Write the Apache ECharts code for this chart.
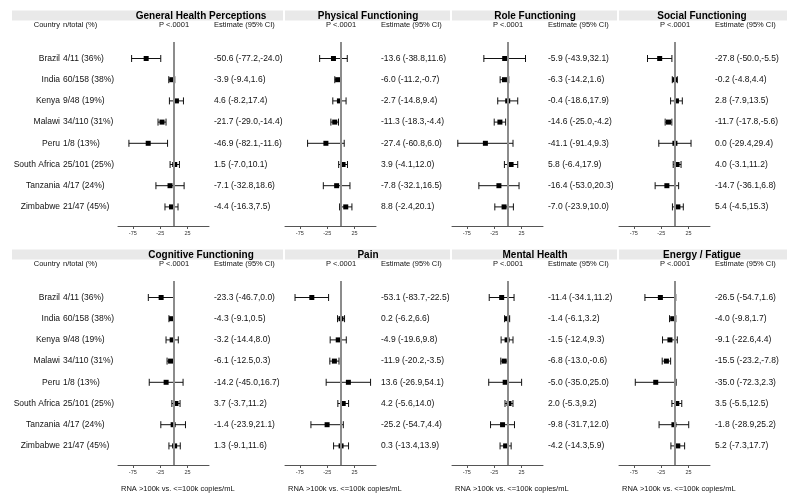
<!DOCTYPE html>
<html><head><meta charset="utf-8">
<script src="https://cdn.jsdelivr.net/npm/echarts@6/dist/echarts.min.js"></script>
<style>html,body{margin:0;padding:0;background:#fff}#c{width:800px;height:502px}</style>
</head><body><div id="c"></div>
<script>
// ---------- DATA ----------
const countries = ['Brazil','India','Kenya','Malawi','Peru','South Africa','Tanzania','Zimbabwe'];
const nTotals = ['4/11 (36%)','60/158 (38%)','9/48 (19%)','34/110 (31%)','1/8 (13%)','25/101 (25%)','4/17 (24%)','21/47 (45%)'];
const panelTitles = ['General Health Perceptions','Physical Functioning','Role Functioning','Social Functioning',
                     'Cognitive Functioning','Pain','Mental Health','Energy / Fatigue'];
const xTickValues = [-75,-25,25];
const pValueLabel = 'P <.0001';
const estimateHeader = 'Estimate (95% CI)';
const countryHeader = 'Country';
const nHeader = 'n/total (%)';
const xAxisNote = 'RNA >100k vs. <=100k copies/mL';

const ghpEst = [-50.6,-3.9,4.6,-21.7,-46.9,1.5,-7.1,-4.4];
const ghpLo  = [-77.2,-9.4,-8.2,-29.0,-82.1,-7.0,-32.8,-16.3];
const ghpHi  = [-24.0,1.6,17.4,-14.4,-11.6,10.1,18.6,7.5];

const pfEst = [-13.6,-6.0,-2.7,-11.3,-27.4,3.9,-7.8,8.8];
const pfLo  = [-38.8,-11.2,-14.8,-18.3,-60.8,-4.1,-32.1,-2.4];
const pfHi  = [11.6,-0.7,9.4,-4.4,6.0,12.0,16.5,20.1];

const rfEst = [-5.9,-6.3,-0.4,-14.6,-41.1,5.8,-16.4,-7.0];
const rfLo  = [-43.9,-14.2,-18.6,-25.0,-91.4,-6.4,-53.0,-23.9];
const rfHi  = [32.1,1.6,17.9,-4.2,9.3,17.9,20.3,10.0];

const sfEst = [-27.8,-0.2,2.8,-11.7,0.0,4.0,-14.7,5.4];
const sfLo  = [-50.0,-4.8,-7.9,-17.8,-29.4,-3.1,-36.1,-4.5];
const sfHi  = [-5.5,4.4,13.5,-5.6,29.4,11.2,6.8,15.3];

const cfEst = [-23.3,-4.3,-3.2,-6.1,-14.2,3.7,-1.4,1.3];
const cfLo  = [-46.7,-9.1,-14.4,-12.5,-45.0,-3.7,-23.9,-9.1];
const cfHi  = [0.0,0.5,8.0,0.3,16.7,11.2,21.1,11.6];

const painEst = [-53.1,0.2,-4.9,-11.9,13.6,4.2,-25.2,0.3];
const painLo  = [-83.7,-6.2,-19.6,-20.2,-26.9,-5.6,-54.7,-13.4];
const painHi  = [-22.5,6.6,9.8,-3.5,54.1,14.0,4.4,13.9];

const mhEst = [-11.4,-1.4,-1.5,-6.8,-5.0,2.0,-9.8,-4.2];
const mhLo  = [-34.1,-6.1,-12.4,-13.0,-35.0,-5.3,-31.7,-14.3];
const mhHi  = [11.2,3.2,9.3,-0.6,25.0,9.2,12.0,5.9];

const efEst = [-26.5,-4.0,-9.1,-15.5,-35.0,3.5,-1.8,5.2];
const efLo  = [-54.7,-9.8,-22.6,-23.2,-72.3,-5.5,-28.9,-7.3];
const efHi  = [1.6,1.7,4.4,-7.8,2.3,12.5,25.2,17.7];

const panelEst = [ghpEst,pfEst,rfEst,sfEst,cfEst,painEst,mhEst,efEst];
const panelLo  = [ghpLo,pfLo,rfLo,sfLo,cfLo,painLo,mhLo,efLo];
const panelHi  = [ghpHi,pfHi,rfHi,sfHi,cfHi,painHi,mhHi,efHi];

// ---------- LAYOUT ----------
const FONT = "'Liberation Sans', Arial, Helvetica, sans-serif";
const colLeft = [118, 285, 452, 619];
const plotW = 91;
const rowTop = [42, 281];     // top of zero line
const firstOff = 16.5;        // first row centre below top
const rowStep = 21.2;
const plotH = 184;            // top -> x axis
const yMin = -firstOff / rowStep;
const yMax = 7 + (plotH - firstOff - 7 * rowStep) / rowStep;
const xMin = -102, xMax = 64;
const rowIdx = countries.map((_, i) => i);

const fmt = v => v.toFixed(1);

const chart = echarts.init(document.getElementById('c'), null, {renderer: 'canvas'});

const grids = [], xAxes = [], yAxes = [], series = [], graphics = [];

function renderErr(params, api) {
  const y = api.value(2);
  const p1 = api.coord([api.value(0), y]);
  const p2 = api.coord([api.value(1), y]);
  const h = 3.5;
  const style = {stroke: '#111', lineWidth: 1, fill: null};
  return {type: 'group', children: [
    {type: 'line', shape: {x1: p1[0], y1: p1[1], x2: p2[0], y2: p2[1]}, style},
    {type: 'line', shape: {x1: p1[0], y1: p1[1] - h, x2: p1[0], y2: p1[1] + h}, style},
    {type: 'line', shape: {x1: p2[0], y1: p2[1] - h, x2: p2[0], y2: p2[1] + h}, style}
  ]};
}

const hiddenY = (i, pos, label) => ({
  gridIndex: i, type: 'value', inverse: true, min: yMin, max: yMax, position: pos,
  axisLine: {show: false, onZero: false}, axisTick: {show: false}, splitLine: {show: false},
  axisLabel: label
});

for (let i = 0; i < 8; i++) {
  const r = Math.floor(i / 4), c = i % 4;
  const L = colLeft[c], T = rowTop[r];
  grids.push({left: L, top: T, width: plotW, height: plotH, containLabel: false});
  xAxes.push({
    gridIndex: i, type: 'value', min: xMin, max: xMax, position: 'bottom',
    axisLine: {show: true, onZero: false, lineStyle: {color: '#555', width: 1}},
    axisTick: {show: true, customValues: xTickValues, length: 3, lineStyle: {color: '#555'}},
    axisLabel: {customValues: xTickValues, fontSize: 5.5, color: '#333', margin: 4, fontFamily: FONT},
    splitLine: {show: false}
  });
  const est = panelEst[i], lo = panelLo[i], hi = panelHi[i];
  const estLabels = est.map((v, k) => fmt(v) + ' (' + fmt(lo[k]) + ',' + fmt(hi[k]) + ')');
  const yBase = yAxes.length;
  yAxes.push(hiddenY(i, 'left', c === 0 ? {
    show: true, customValues: rowIdx, margin: 58, fontSize: 8.5, color: '#111', fontFamily: FONT,
    formatter: v => countries[Math.round(v)]
  } : {show: false}));
  yAxes.push(hiddenY(i, 'right', {
    show: true, customValues: rowIdx, margin: 5, fontSize: 8.5, color: '#111', fontFamily: FONT,
    formatter: v => estLabels[Math.round(v)]
  }));
  if (c === 0) {
    yAxes.push(hiddenY(i, 'left', {
      show: true, customValues: rowIdx, margin: 55, align: 'left', fontSize: 8.5, color: '#111', fontFamily: FONT,
      formatter: v => nTotals[Math.round(v)]
    }));
  }
  series.push({
    type: 'custom', xAxisIndex: i, yAxisIndex: yBase, z: 2, silent: true,
    renderItem: renderErr, encode: {x: [0, 1], y: 2},
    data: rowIdx.map(k => [lo[k], hi[k], k]),
    markLine: {silent: true, symbol: ['none', 'none'], label: {show: false},
      lineStyle: {color: '#8c8c8c', width: 2, type: 'solid'}, data: [{xAxis: 0}], animation: false}
  });
  series.push({
    type: 'scatter', xAxisIndex: i, yAxisIndex: yBase, z: 3, silent: true,
    symbol: 'rect', symbolSize: 5, itemStyle: {color: '#000', opacity: 1},
    data: rowIdx.map(k => [est[k], k])
  });

  const bandTop = r === 0 ? 10.5 : 249.5;
  const bx0 = c === 0 ? 12 : L;
  const bx1 = c === 3 ? 787 : colLeft[c + 1] - 2;
  graphics.push({type: 'rect', silent: true, z: 0, shape: {x: bx0, y: bandTop, width: bx1 - bx0, height: 10},
    style: {fill: '#e9e9e9'}});
  graphics.push({type: 'text', silent: true, z: 5, x: L + 83, y: bandTop + 5.5,
    style: {text: panelTitles[i], fontSize: 10, fontWeight: 'bold', fontFamily: FONT, fill: '#000',
      align: 'center', verticalAlign: 'middle', textAlign: 'center', textVerticalAlign: 'middle'}});
  const hy = bandTop + 14;
  graphics.push({type: 'text', silent: true, z: 5, x: L + 56, y: hy,
    style: {text: pValueLabel, fontSize: 7.5, fontFamily: FONT, fill: '#111',
      align: 'center', verticalAlign: 'middle', textAlign: 'center', textVerticalAlign: 'middle'}});
  graphics.push({type: 'text', silent: true, z: 5, x: L + 96, y: hy,
    style: {text: estimateHeader, fontSize: 7.5, fontFamily: FONT, fill: '#111',
      align: 'left', verticalAlign: 'middle', textAlign: 'left', textVerticalAlign: 'middle'}});
  if (c === 0) {
    graphics.push({type: 'text', silent: true, z: 5, x: 60, y: hy,
      style: {text: countryHeader, fontSize: 7.5, fontFamily: FONT, fill: '#111',
        align: 'right', verticalAlign: 'middle', textAlign: 'right', textVerticalAlign: 'middle'}});
    graphics.push({type: 'text', silent: true, z: 5, x: 63, y: hy,
      style: {text: nHeader, fontSize: 7.5, fontFamily: FONT, fill: '#111',
        align: 'left', verticalAlign: 'middle', textAlign: 'left', textVerticalAlign: 'middle'}});
  }
  if (r === 1) {
    graphics.push({type: 'text', silent: true, z: 5, x: L + 3, y: 488.5,
      style: {text: xAxisNote, fontSize: 7.5, fontFamily: FONT, fill: '#111',
        align: 'left', verticalAlign: 'middle', textAlign: 'left', textVerticalAlign: 'middle'}});
  }
}

chart.setOption({
  animation: false,
  backgroundColor: '#fff',
  grid: grids, xAxis: xAxes, yAxis: yAxes, series: series,
  graphic: {elements: graphics}
});
</script></body></html>
